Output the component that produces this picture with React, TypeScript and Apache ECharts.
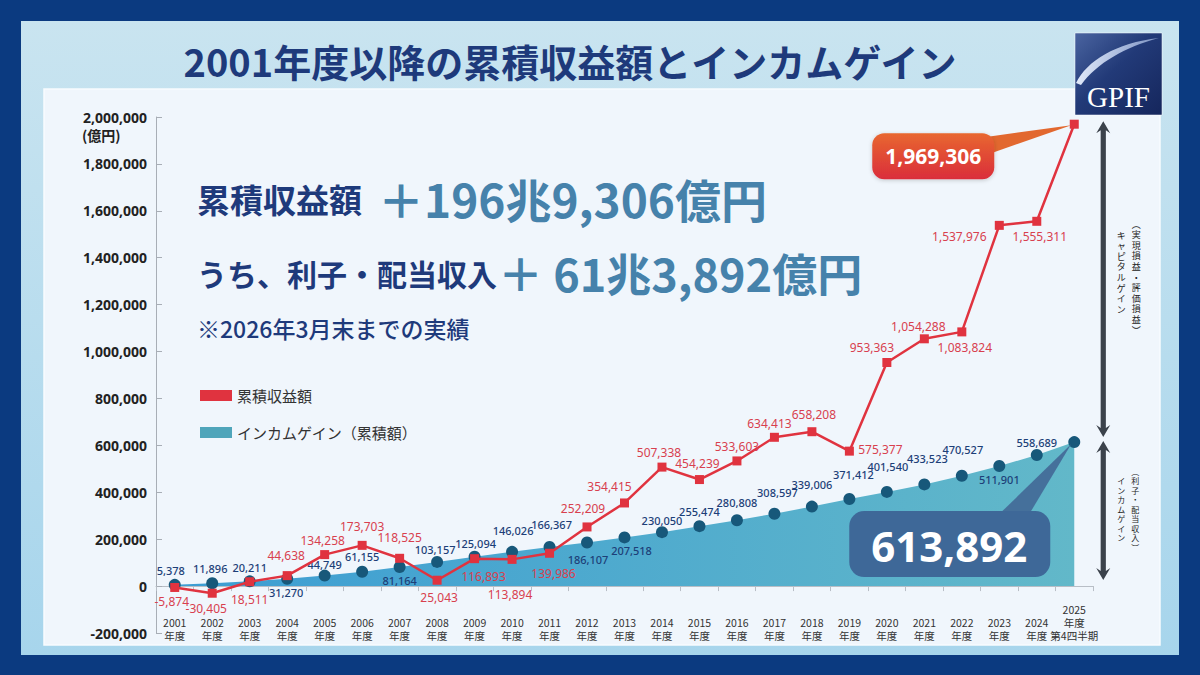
import React, { useEffect, useRef } from 'react';
import * as echarts from 'echarts';

// ---------- data ----------
const years = ['2001','2002','2003','2004','2005','2006','2007','2008','2009','2010','2011','2012','2013','2014','2015','2016','2017','2018','2019','2020','2021','2022','2023','2024','2025'];
const yearLabels = years.map((y, i) => (i === years.length - 1 ? `${y}\n年度\n第4四半期` : `${y}\n年度`));

const cumulativeReturn = [-5874, -30405, 18511, 44638, 134258, 173703, 118525, 25043, 116893, 113894, 139986, 252209, 354415, 507338, 454239, 533603, 634413, 658208, 575377, 953363, 1054288, 1083824, 1537976, 1555311, 1969306];
const incomeGain = [5378, 11896, 20211, 31270, 44749, 61155, 81164, 103157, 125094, 146026, 166367, 186107, 207518, 230050, 255474, 280808, 308597, 339006, 371412, 401540, 433523, 470527, 511901, 558689, 613892];

const yMin = -200000;
const yMax = 2000000;
const yStep = 200000;

// label placement (offset of label centre from its point)
const returnLabelOffsets: number[][] = [[-3,14],[-6,15],[0,18],[-1,-20],[-2,-14],[0,-19],[0,-21],[2,17],[9,18],[-2,35],[4,20],[-4,-18],[-15,-16],[-3,-15],[-2,-16],[0,-14],[-5,-14],[2,-17],[31,-2],[-15,-15],[-6,-12],[3,16],[-40,11],[3,15],[0,0]];
const incomeLabelOffsets: number[][] = [[-4,-14],[-2,-15],[0,-14],[-1,14],[0,-11],[0,-15],[0,13],[-2,-12],[1,-13],[1,-21],[2,-23],[1,17],[7,13],[0,-12],[0,-15],[0,-18],[3,-21],[0,-22],[4,-24],[1,-25],[3,-26],[1,-26],[0,13],[0,-13],[0,0]];

const FONT = '"Noto Sans", "Noto Sans CJK JP", sans-serif';
const JP = '"Noto Sans CJK JP", "Noto Sans", sans-serif';

echarts.graphic.registerShape(
  'gpifSwoosh',
  echarts.graphic.extendPath('M1 50 C 12 28 40 10 84 5 C 50 14 22 30 6 52 Z', {})
);

const fmt = (v: number) => v.toLocaleString('en-US');

function vText(s: string) {
  return Array.from(s).join('\n');
}

function doubleArrow(x: number, y1: number, y2: number) {
  const hw = 7, hh = 12, sw = 2.6;
  return {
    type: 'polygon',
    z: 20,
    shape: {
      points: [
        [x, y1], [x + hw, y1 + hh], [x + sw, y1 + hh - 3], [x + sw, y2 - hh + 3], [x + hw, y2 - hh],
        [x, y2], [x - hw, y2 - hh], [x - sw, y2 - hh + 3], [x - sw, y1 + hh - 3], [x - hw, y1 + hh],
      ],
    },
    style: { fill: '#3b424b' },
  };
}

function buildGraphic(pR: number[], pI: number[], p0: number[]) {
  const last = years.length - 1;
  const bigColor = '#4682ab';
  const ax = pR[0] + 29;
  return [
    // panel
    {
      type: 'rect', z: -10, silent: true,
      shape: { x: 21, y: 21, width: 1158, height: 634 },
      style: {
        fill: new echarts.graphic.LinearGradient(0, 0, 0, 1, [
          { offset: 0, color: '#c9e4f0' },
          { offset: 1, color: '#a7d5ec' },
        ]),
      },
    },
    {
      type: 'rect', z: -9, silent: true,
      shape: { x: 44, y: 89, width: 1116, height: 556 },
      style: { fill: '#f0f6fc', stroke: '#f8fbfe', lineWidth: 1.5 },
    },
    // title
    {
      type: 'text', z: 20, x: 570, y: 60,
      style: {
        text: '2001年度以降の累積収益額とインカムゲイン',
        fill: '#1e3a7b', fontSize: 38, fontWeight: 'bold', fontFamily: JP,
        textAlign: 'center', textVerticalAlign: 'middle',
      },
    },
    // logo
    {
      type: 'group', x: 1075, y: 33, z: 20,
      children: [
        {
          type: 'rect', shape: { x: 0, y: 0, width: 87, height: 82 },
          style: {
            fill: new echarts.graphic.LinearGradient(0, 0, 1, 1, [
              { offset: 0, color: '#4a64a0' },
              { offset: 0.45, color: '#223a78' },
              { offset: 1, color: '#15265c' },
            ]),
            stroke: 'rgba(255,255,255,0.5)', lineWidth: 1,
          },
        },
        {
          type: 'gpifSwoosh', x: 0, y: 0,
          style: {
            fill: new echarts.graphic.LinearGradient(0, 0, 1, 0, [
              { offset: 0, color: 'rgba(235,242,255,0.95)' },
              { offset: 1, color: 'rgba(200,220,255,0.55)' },
            ]),
          },
        },
        {
          type: 'text', x: 43.5, y: 64,
          style: {
            text: 'GPIF', fill: '#ffffff', fontSize: 29, fontFamily: '"Liberation Serif", "DejaVu Serif", serif',
            textAlign: 'center', textVerticalAlign: 'middle',
          },
        },
      ],
    },
    // headline texts
    {
      type: 'text', z: 20, x: 197, y: 199,
      style: { text: '累積収益額', fill: '#1e3a7b', fontSize: 33, fontWeight: 'bold', fontFamily: JP, textVerticalAlign: 'middle' },
    },
    {
      type: 'text', z: 20, x: 378, y: 198,
      style: { text: '＋196兆9,306億円', fill: bigColor, fontSize: 46, fontWeight: 'bold', fontFamily: JP, textVerticalAlign: 'middle' },
    },
    {
      type: 'text', z: 20, x: 197, y: 273,
      style: { text: 'うち、利子・配当収入', fill: '#1e3a7b', fontSize: 30, fontWeight: 'bold', fontFamily: JP, textVerticalAlign: 'middle' },
    },
    {
      type: 'text', z: 20, x: 498, y: 272,
      style: { text: '＋ 61兆3,892億円', fill: bigColor, fontSize: 45, fontWeight: 'bold', fontFamily: JP, textVerticalAlign: 'middle' },
    },
    {
      type: 'text', z: 20, x: 197, y: 328,
      style: { text: '※2026年3月末までの実績', fill: '#1e3a7b', fontSize: 23, fontWeight: 500, fontFamily: JP, textVerticalAlign: 'middle' },
    },
    // unit
    {
      type: 'text', z: 20, x: 82, y: 135,
      style: { text: '(億円)', fill: '#222', fontSize: 14, fontWeight: 'bold', fontFamily: JP, textVerticalAlign: 'middle' },
    },
    // red callout
    {
      type: 'polygon', z: 18,
      shape: { points: [[pR[0] - 90, pR[1] + 13], [pR[0] - 3, pR[1] + 1], [pR[0] - 86, pR[1] + 30]] },
      style: { fill: '#e2682f' },
    },
    {
      type: 'rect', z: 19,
      shape: { x: pR[0] - 202, y: pR[1] + 9, width: 122, height: 46, r: 12 },
      style: {
        fill: new echarts.graphic.LinearGradient(0, 0, 0, 1, [
          { offset: 0, color: '#e8672f' },
          { offset: 1, color: '#da2d3b' },
        ]),
        shadowBlur: 4, shadowColor: 'rgba(0,0,0,0.2)', shadowOffsetY: 1,
      },
    },
    {
      type: 'text', z: 20, x: pR[0] - 141, y: pR[1] + 32,
      style: {
        text: fmt(cumulativeReturn[last]), fill: '#ffffff', fontSize: 21, fontWeight: 'bold', fontFamily: FONT,
        textAlign: 'center', textVerticalAlign: 'middle',
      },
    },
    // blue callout
    {
      type: 'polygon', z: 18,
      shape: { points: [[pI[0] - 75, pI[1] + 72], [pI[0] - 3, pI[1] + 2], [pI[0] - 45, pI[1] + 72]] },
      style: { fill: 'rgba(66,104,150,0.9)' },
    },
    {
      type: 'rect', z: 19,
      shape: { x: pI[0] - 225, y: pI[1] + 69, width: 201, height: 66, r: 15 },
      style: { fill: '#3e6898' },
    },
    {
      type: 'text', z: 20, x: pI[0] - 125, y: pI[1] + 103,
      style: {
        text: fmt(incomeGain[last]), fill: '#ffffff', fontSize: 42, fontWeight: 'bold', fontFamily: FONT,
        textAlign: 'center', textVerticalAlign: 'middle',
      },
    },
    // arrows
    doubleArrow(ax, pR[1] - 3, pI[1] - 5),
    doubleArrow(ax, pI[1] - 1, p0[1] - 6),
    // vertical captions
    {
      type: 'text', z: 20, x: pR[0] + 62, y: (pR[1] + pI[1]) / 2 - 6,
      style: { text: vText('︵実現損益・評価損益︶'), fill: '#222', fontSize: 9, lineHeight: 10.6, fontFamily: JP, textAlign: 'center', textVerticalAlign: 'middle' },
    },
    {
      type: 'text', z: 20, x: pR[0] + 47, y: (pR[1] + pI[1]) / 2 - 11,
      style: { text: vText('キャピタルゲイン'), fill: '#222', fontSize: 9, lineHeight: 10.6, fontFamily: JP, textAlign: 'center', textVerticalAlign: 'middle' },
    },
    {
      type: 'text', z: 20, x: pI[0] + 61, y: (pI[1] + p0[1]) / 2 - 5,
      style: { text: vText('︵利子・配当収入︶'), fill: '#222', fontSize: 8, lineHeight: 9.5, fontFamily: JP, textAlign: 'center', textVerticalAlign: 'middle' },
    },
    {
      type: 'text', z: 20, x: pI[0] + 47, y: (pI[1] + p0[1]) / 2 - 5,
      style: { text: vText('インカムゲイン'), fill: '#222', fontSize: 8, lineHeight: 9.5, fontFamily: JP, textAlign: 'center', textVerticalAlign: 'middle' },
    },
  ];
}

export default function App() {
  const ref = useRef<HTMLDivElement>(null);
  useEffect(() => {
    const el = ref.current;
    if (!el) return;
    const chart = echarts.init(el, null, { renderer: 'svg' });
    const last = years.length - 1;

    const incomeData = incomeGain.map((v, i) => ({
      value: v,
      label: i === last ? { show: false } : { offset: incomeLabelOffsets[i] },
    }));
    const returnData = cumulativeReturn.map((v, i) => ({
      value: v,
      label: i === last ? { show: false } : { offset: returnLabelOffsets[i] },
    }));

    const option: any = {
      animation: false,
      backgroundColor: '#0b3a80',
      textStyle: { fontFamily: FONT },
      grid: { left: 156, right: 107, top: 117, bottom: 42, containLabel: false, outerBoundsMode: 'none' },
      legend: {
        orient: 'vertical', left: 200, top: 388, itemWidth: 32, itemHeight: 11, itemGap: 22,
        icon: 'rect', padding: 0, selectedMode: false,
        textStyle: { fontSize: 15, color: '#333', fontFamily: JP },
        data: [
          { name: '累積収益額', itemStyle: { color: '#e0333f' } },
          { name: 'インカムゲイン（累積額）', itemStyle: { color: '#4fa5ba' } },
        ],
      },
      xAxis: {
        type: 'category', data: yearLabels, boundaryGap: true,
        axisLine: { onZero: true, lineStyle: { color: '#b8bec6', width: 1 } },
        axisTick: { show: true, length: 5, lineStyle: { color: '#b8bec6' } },
        axisLabel: { interval: 0, fontSize: 10.5, lineHeight: 13, color: '#333', margin: 9, verticalAlign: 'bottom', fontFamily: JP },
      },
      yAxis: {
        type: 'value', min: yMin, max: yMax, interval: yStep,
        axisLine: { show: true, lineStyle: { color: '#a8aeb6' } },
        axisTick: { show: true, inside: true, length: 6, lineStyle: { color: '#a8aeb6' } },
        splitLine: { show: false },
        axisLabel: { fontSize: 14, fontWeight: 'bold', color: '#222', margin: 9, formatter: (v: number) => fmt(v) },
      },
      series: [
        {
          name: 'インカムゲイン（累積額）', type: 'line', data: incomeData, z: 2,
          symbol: 'circle', symbolSize: 12,
          itemStyle: { color: '#17587a' },
          lineStyle: { width: 0 },
          areaStyle: {
            opacity: 1,
            color: new echarts.graphic.LinearGradient(0, 0, 1, 0, [
              { offset: 0, color: '#3c9dd3' },
              { offset: 1, color: '#62b8c9' },
            ]),
          },
          label: { show: true, position: 'inside', fontSize: 11, fontWeight: 500, color: '#1d3f78', formatter: (p: any) => fmt(p.value) },
        },
        {
          name: '累積収益額', type: 'line', data: returnData, z: 3,
          symbol: 'rect', symbolSize: 9,
          itemStyle: { color: '#e0333f' },
          lineStyle: { color: '#e0333f', width: 2.5 },
          label: { show: true, position: 'inside', fontSize: 12, color: '#d8404e', formatter: (p: any) => fmt(p.value) },
        },
      ],
    };
    chart.setOption(option);

    const pR = chart.convertToPixel({ gridIndex: 0 }, [last, cumulativeReturn[last]]) as number[];
    const pI = chart.convertToPixel({ gridIndex: 0 }, [last, incomeGain[last]]) as number[];
    const p0 = chart.convertToPixel({ gridIndex: 0 }, [last, 0]) as number[];
    chart.setOption({ graphic: buildGraphic(pR, pI, p0) });

    return () => chart.dispose();
  }, []);
  return <div ref={ref} style={{ position: 'absolute', left: 0, top: 0, width: 1200, height: 675 }} />;
}
